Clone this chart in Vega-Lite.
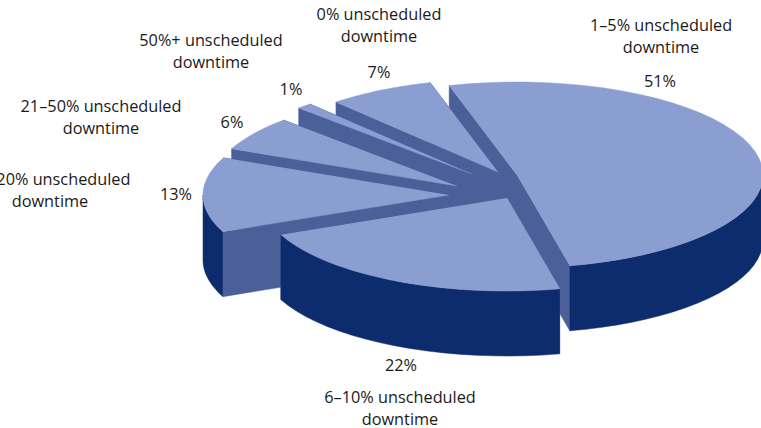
{
"$schema":"https://vega.github.io/schema/vega-lite/v6.json",
"width":761,"height":428,"padding":0,"autosize":{"type":"none"},
"background":"white",
"view":{"stroke":null},
"data":{"values":[
{"slice":"1–5%","share":51,"pieOrder":0},
{"slice":"0%","share":7,"pieOrder":5},
{"slice":"50%+","share":1,"pieOrder":4},
{"slice":"21–50%","share":6,"pieOrder":3},
{"slice":"11–20%","share":13,"pieOrder":2},
{"slice":"6–10%","share":22,"pieOrder":1}
]},
"layer":[
{"transform":[
{"window":[{"op":"sum","field":"share","as":"cum"}],"sort":[{"field":"pieOrder"}]},
{"calculate":"-16+3.6*(datum.cum-datum.share)","as":"ts"},
{"calculate":"-16+3.6*datum.cum","as":"te"},
{"calculate":"[517,507,449,457,472,498][datum.pieOrder]","as":"tx"},
{"calculate":"[175,198,195,186,174,172][datum.pieOrder]","as":"ty"},
{"calculate":"['wallA','wallB','outer','top']","as":"part"},
{"flatten":["part"]},
{"filter":"datum.part!='outer'||(datum.te>90&&datum.ts<270)"},
{"calculate":"[0,1,2,3,4,5,6,7,8,9,10,11,12,13,14,15,16,17,18,19,20,21,22,23,24,25,26,27,28,29,30,31,32,33,34,35,36,37,38,39,40,41]","as":"k"},
{"flatten":["k"]},
{"calculate":"max(datum.ts,90)","as":"oa"},
{"calculate":"min(datum.te,270)","as":"ob"},
{"calculate":"datum.part=='top'?(datum.ts+(datum.te-datum.ts)*(datum.k-1)/40):datum.part=='wallA'?datum.ts:datum.part=='wallB'?datum.te:(datum.k<=20?datum.oa+(datum.ob-datum.oa)*datum.k/20:datum.oa+(datum.ob-datum.oa)*(41-datum.k)/20)","as":"t"},
{"calculate":"datum.part=='top'?(datum.k==0?0:1):datum.part=='outer'?1:(datum.k==1||datum.k==2?1:0)","as":"r"},
{"calculate":"(datum.part=='outer'?datum.k>20:(datum.part!='top'&&datum.k>=2))?65:0","as":"drop"},
{"calculate":"datum.tx+datum.r*246*sin(datum.t*PI/180)","as":"px"},
{"calculate":"datum.ty-datum.r*93*cos(datum.t*PI/180)+datum.drop","as":"py"},
{"calculate":"datum.slice+'-'+datum.part","as":"poly"}
],
"mark":{"type":"line","filled":true,"strokeWidth":0.5,"clip":true},
"encoding":{
"x":{"field":"px","type":"quantitative","scale":{"domain":[0,761],"nice":false,"zero":false},"axis":null},
"y":{"field":"py","type":"quantitative","scale":{"domain":[428,0],"nice":false,"zero":false},"axis":null},
"order":{"field":"k","type":"quantitative"},
"detail":{"field":"poly"},
"color":{"field":"part","type":"nominal","legend":null,"scale":{"domain":["wallA","wallB","outer","top"],"range":["#4B5F98","#4B5F98","#0D2C6D","#8A9ED1"]}},
"stroke":{"field":"part","type":"nominal","legend":null,"scale":{"domain":["wallA","wallB","outer","top"],"range":["#4B5F98","#4B5F98","#0D2C6D","#8A9ED1"]}}
}},
{"transform":[
{"calculate":"datum.slice+' unscheduled\\ndowntime'","as":"name"},
{"calculate":"[661,400,50,101,211,379][datum.pieOrder]","as":"lx"},
{"calculate":"[31,403,185,112,46,20][datum.pieOrder]","as":"ly"}
],
"mark":{"type":"text","font":"Open Sans","fontSize":16.3,"align":"center","baseline":"alphabetic","lineBreak":"\n","lineHeight":22,"color":"#1a1a1a"},
"encoding":{
"x":{"field":"lx","type":"quantitative","scale":{"domain":[0,761],"nice":false,"zero":false},"axis":null},
"y":{"field":"ly","type":"quantitative","scale":{"domain":[428,0],"nice":false,"zero":false},"axis":null},
"text":{"field":"name"}
}},
{"transform":[
{"calculate":"datum.share+'%'","as":"pct"},
{"calculate":"[660,401,176,232,291,379][datum.pieOrder]","as":"lx"},
{"calculate":"[87,371,200,128,95,78][datum.pieOrder]","as":"ly"}
],
"mark":{"type":"text","font":"Open Sans","fontSize":16.3,"align":"center","baseline":"alphabetic","color":"#1a1a1a"},
"encoding":{
"x":{"field":"lx","type":"quantitative","scale":{"domain":[0,761],"nice":false,"zero":false},"axis":null},
"y":{"field":"ly","type":"quantitative","scale":{"domain":[428,0],"nice":false,"zero":false},"axis":null},
"text":{"field":"pct"}
}}
]
}
